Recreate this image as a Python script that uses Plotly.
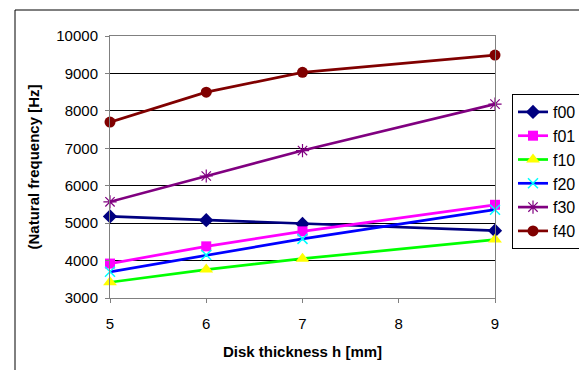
import plotly.graph_objects as go

thickness = [5, 6, 7, 9]
series_names = ["f00", "f01", "f10", "f20", "f30", "f40"]
f00 = [5180, 5080, 4980, 4800]
f01 = [3920, 4380, 4780, 5490]
f10 = [3420, 3760, 4050, 4560]
f20 = [3700, 4150, 4580, 5360]
f30 = [5570, 6260, 6940, 8180]
f40 = [7700, 8500, 9030, 9490]
x_ticks = [5, 6, 7, 8, 9]
y_ticks = [3000, 4000, 5000, 6000, 7000, 8000, 9000, 10000]
y_tick_text = ["3000", "4000", "5000", "6000", "7000", "8000", "9000", "10000"]

styles = {
    "f00": dict(line="#000080", marker=dict(symbol="diamond", color="#000080", size=11)),
    "f01": dict(line="#FF00FF", marker=dict(symbol="square", color="#FF00FF", size=10)),
    "f10": dict(line="#00FF00", marker=dict(symbol="triangle-up", color="#FFFF00", size=12)),
    "f20": dict(line="#0000FF", marker=dict(symbol="x-thin", color="#00FFFF", size=10,
                                             line=dict(color="#00FFFF", width=1.5))),
    "f30": dict(line="#800080", marker=dict(symbol="asterisk", color="#800080", size=11,
                                             line=dict(color="#800080", width=1.2))),
    "f40": dict(line="#800000", marker=dict(symbol="circle", color="#800000", size=11)),
}
values = dict(f00=f00, f01=f01, f10=f10, f20=f20, f30=f30, f40=f40)

fig = go.Figure()
for name in series_names:
    st = styles[name]
    fig.add_trace(go.Scatter(
        x=thickness, y=values[name], name=name, mode="lines+markers",
        line=dict(color=st["line"], width=2.7), marker=st["marker"],
        cliponaxis=False,
    ))

W, H = 579, 370
L, R, T, B = 110, 84, 36, 72
pw, ph = W - L - R, H - T - B

def px(xpix):
    return (xpix - L) / pw

def py(ypix):
    return (H - B - ypix) / ph

fig.update_layout(
    width=W, height=H,
    margin=dict(l=L, r=R, t=T, b=B, autoexpand=False),
    paper_bgcolor="white", plot_bgcolor="white",
    font=dict(family="Liberation Sans, Arial, sans-serif", color="black", size=15),
    showlegend=True,
    legend=dict(xref="container", yref="container", x=512 / W, y=1 - 94 / H,
                xanchor="left", yanchor="top",
                bordercolor="black", borderwidth=1, bgcolor="white",
                font=dict(size=16), itemwidth=30, tracegroupgap=0),
    xaxis=dict(range=[5, 9], tickvals=x_ticks, showgrid=False, zeroline=False,
               showline=True, linecolor="#808080", linewidth=1, mirror=True,
               ticks="outside", ticklen=4, tickcolor="#808080",
               ticklabelstandoff=8,
               title=dict(text="<b>Disk thickness h [mm]</b>", font=dict(size=15), standoff=15)),
    yaxis=dict(range=[3000, 10000], tickvals=y_ticks, ticktext=y_tick_text,
               showgrid=True, gridcolor="black",
               gridwidth=1, zeroline=False, showline=True, linecolor="#808080", linewidth=1,
               mirror=True,
               ticks="outside", ticklen=4, tickcolor="#808080",
               ticklabelstandoff=4,
               title=dict(text="<b>(Natural frequency [Hz]</b>", font=dict(size=15), standoff=13)),
    shapes=[
        dict(type="rect", xref="paper", yref="paper", x0=px(15), x1=px(640),
             y0=py(420), y1=py(10), line=dict(color="black", width=1), layer="below"),
    ],
)

fig.write_html("out.html", config={"displayModeBar": False},
               post_script="document.body.style.margin='0';document.body.style.overflow='hidden';")
